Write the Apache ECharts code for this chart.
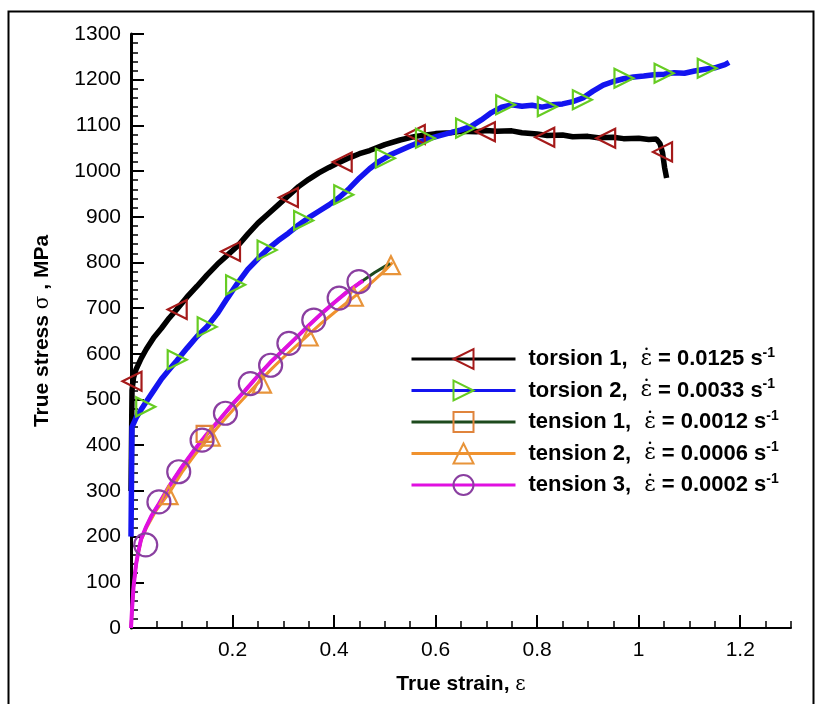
<!DOCTYPE html>
<html><head><meta charset="utf-8">
<script src="https://cdn.jsdelivr.net/npm/echarts@6/dist/echarts.min.js"></script>
<style>html,body{margin:0;padding:0;background:#fff}#c{width:816px;height:704px}</style>
</head><body><div id="c"></div>
<script>
// ---------- data ----------
const seriesNames = ['torsion 1', 'torsion 2', 'tension 1', 'tension 2', 'tension 3'];
const strainRates = ['0.0125', '0.0033', '0.0012', '0.0006', '0.0002'];
const xMajorTicks = [0, 0.2, 0.4, 0.6, 0.8, 1, 1.2];
const xTickLabels = [0.2, 0.4, 0.6, 0.8, 1, 1.2];

const torsion1X = [0, 0.002, 0.005, 0.01, 0.02, 0.03, 0.045, 0.06, 0.075, 0.09, 0.11, 0.13, 0.15, 0.17, 0.19, 0.21, 0.23, 0.25, 0.27, 0.29, 0.31, 0.33, 0.35, 0.37, 0.39, 0.41, 0.43, 0.45, 0.47, 0.5, 0.53, 0.56, 0.6, 0.63, 0.65, 0.68, 0.7, 0.72, 0.75, 0.77, 0.8, 0.82, 0.85, 0.87, 0.9, 0.92, 0.95, 0.97, 1.0, 1.02, 1.035, 1.042, 1.047, 1.051, 1.055];
const torsion1Y = [300, 520, 548, 566, 590, 610, 636, 656, 678, 697, 724, 748, 773, 796, 816, 836, 862, 886, 906, 926, 946, 966, 982, 996, 1008, 1019, 1029, 1038, 1045, 1058, 1068, 1076, 1082, 1084, 1087, 1086, 1089, 1087, 1088, 1084, 1081, 1078, 1079, 1075, 1076, 1073, 1074, 1071, 1072, 1069, 1070, 1060, 1040, 1008, 985];
const torsion1MarkX = [0.002, 0.091, 0.196, 0.31, 0.416, 0.56, 0.698, 0.815, 0.935, 1.047];
const torsion1MarkY = [540, 697, 824, 942, 1020, 1080, 1086, 1074, 1072, 1042];

const torsion2X = [0, 0.002, 0.01, 0.02, 0.03, 0.045, 0.06, 0.075, 0.09, 0.11, 0.13, 0.15, 0.17, 0.19, 0.21, 0.23, 0.25, 0.27, 0.29, 0.31, 0.33, 0.35, 0.37, 0.39, 0.41, 0.43, 0.45, 0.47, 0.49, 0.51, 0.53, 0.55, 0.57, 0.59, 0.61, 0.63, 0.65, 0.67, 0.69, 0.71, 0.73, 0.75, 0.77, 0.79, 0.81, 0.83, 0.85, 0.87, 0.89, 0.91, 0.93, 0.95, 0.97, 0.99, 1.01, 1.03, 1.05, 1.07, 1.09, 1.11, 1.13, 1.15, 1.17, 1.178];
const torsion2Y = [200, 440, 460, 478, 495, 520, 545, 565, 585, 612, 638, 660, 688, 722, 755, 785, 808, 830, 848, 864, 882, 898, 912, 926, 942, 962, 985, 1005, 1022, 1035, 1045, 1055, 1064, 1072, 1078, 1084, 1090, 1098, 1112, 1128, 1140, 1145, 1142, 1144, 1140, 1145, 1147, 1152, 1160, 1175, 1188, 1196, 1202, 1206, 1208, 1211, 1212, 1215, 1214, 1219, 1223, 1226, 1233, 1238];
const torsion2MarkX = [0.029, 0.091, 0.15, 0.206, 0.268, 0.34, 0.419, 0.501, 0.58, 0.659, 0.738, 0.82, 0.889, 0.971, 1.05, 1.135];
const torsion2MarkY = [484, 587, 659, 751, 827, 892, 948, 1028, 1072, 1094, 1145, 1141, 1156, 1203, 1214, 1225];

const tension1X = [0, 0.002, 0.005, 0.01, 0.015, 0.02, 0.03, 0.04, 0.055, 0.075, 0.1, 0.125, 0.15, 0.175, 0.2, 0.225, 0.25, 0.275, 0.3, 0.325, 0.35, 0.375, 0.4, 0.425, 0.45, 0.48, 0.51];
const tension1Y = [0, 40, 90, 140, 170, 195, 222, 245, 272, 310, 352, 390, 425, 457, 490, 520, 552, 582, 608, 635, 662, 688, 712, 735, 755, 778, 798];
const tension1MarkX = [0.145];
const tension1MarkY = [425];

const tension2X = [0, 0.002, 0.005, 0.01, 0.02, 0.03, 0.05, 0.075, 0.1, 0.125, 0.15, 0.175, 0.2, 0.225, 0.25, 0.275, 0.3, 0.325, 0.35, 0.375, 0.4, 0.425, 0.45, 0.475, 0.5, 0.515];
const tension2Y = [0, 40, 90, 140, 192, 218, 258, 295, 340, 378, 412, 445, 476, 506, 536, 565, 592, 617, 642, 667, 690, 712, 734, 757, 782, 800];
const tension2MarkX = [0.074, 0.157, 0.258, 0.35, 0.439, 0.512];
const tension2MarkY = [291, 419, 535, 638, 725, 794];

const tension3X = [0, 0.002, 0.005, 0.01, 0.015, 0.02, 0.03, 0.04, 0.055, 0.075, 0.1, 0.125, 0.15, 0.175, 0.2, 0.225, 0.25, 0.275, 0.3, 0.325, 0.35, 0.375, 0.4, 0.425, 0.45, 0.457];
const tension3Y = [0, 40, 90, 140, 170, 195, 222, 245, 272, 310, 352, 390, 425, 457, 490, 520, 552, 582, 608, 635, 662, 688, 712, 735, 755, 760];
const tension3MarkX = [0.029, 0.055, 0.094, 0.14, 0.186, 0.235, 0.275, 0.311, 0.36, 0.41, 0.449];
const tension3MarkY = [182, 276, 342, 411, 470, 535, 575, 623, 674, 722, 758];

// ---------- styles ----------
const lineColors = ['#000000', '#1414f0', '#1d4a1d', '#f0922e', '#e010e0'];
const lineWidths = [5.5, 5.5, 3, 3, 4];
const markColors = ['#a51a1a', '#66cc22', '#e0843c', '#e8943a', '#8a3fa0'];
const markSymbols = ['triangle', 'triangle', 'rect', 'triangle', 'circle'];
const markRotate = [90, -90, 0, 0, 0];
const markSizes = [19, 19, 16, 18, 23];

const zip = (xs, ys) => xs.map((x, i) => [x, ys[i]]);
const lineData = [zip(torsion1X, torsion1Y), zip(torsion2X, torsion2Y), zip(tension1X, tension1Y), zip(tension2X, tension2Y), zip(tension3X, tension3Y)];
const markData = [zip(torsion1MarkX, torsion1MarkY), zip(torsion2MarkX, torsion2MarkY), zip(tension1MarkX, tension1MarkY), zip(tension2MarkX, tension2MarkY), zip(tension3MarkX, tension3MarkY)];

const drawOrder = [0, 1, 3, 2, 4];
const series = [];
drawOrder.forEach((i, k) => {
  series.push({
    name: seriesNames[i], type: 'line', data: lineData[i], xAxisIndex: 0, yAxisIndex: 0,
    showSymbol: false, symbol: markSymbols[i], symbolRotate: markRotate[i],
    lineStyle: { color: lineColors[i], width: lineWidths[i] },
    itemStyle: { color: markColors[i] }, z: 2 + k, silent: true, animation: false
  });
});
drawOrder.forEach((i, k) => {
  series.push({
    name: seriesNames[i] + ' markers', type: 'scatter', data: markData[i], xAxisIndex: 0, yAxisIndex: 0,
    symbol: markSymbols[i], symbolRotate: markRotate[i], symbolSize: markSizes[i],
    itemStyle: { color: 'transparent', borderColor: markColors[i], borderWidth: 2.2, opacity: 1 },
    z: 10 + k, silent: true, animation: false
  });
});

const FONT = 'Liberation Sans';
const rateOf = {};
seriesNames.forEach((n, i) => rateOf[n] = strainRates[i]);

const chart = echarts.init(document.getElementById('c'), null, { renderer: 'canvas' });
chart.setOption({
  backgroundColor: '#ffffff',
  animation: false,
  grid: { left: 131, top: 34, right: 25, bottom: 76, containLabel: false },
  xAxis: [
    {
      type: 'value', min: 0, max: 1.3, interval: 0.05, position: 'bottom',
      axisLine: { show: true, onZero: false, lineStyle: { color: '#000', width: 2 } },
      axisTick: { show: true, inside: true, length: 7, lineStyle: { color: '#000', width: 1.5 } },
      axisLabel: { show: false }, splitLine: { show: false },
      name: '{b|True strain, }{e|ε}', nameLocation: 'middle', nameGap: 46,
      nameTextStyle: { rich: {
        b: { fontFamily: FONT, fontWeight: 'bold', fontSize: 21, color: '#000' },
        e: { fontFamily: 'DejaVu Serif', fontSize: 20, color: '#000' } } }
    },
    {
      type: 'value', min: 0, max: 1.3, interval: 0.2, position: 'bottom',
      axisLine: { show: false, onZero: false },
      axisTick: { show: true, inside: true, length: 13, customValues: xMajorTicks, lineStyle: { color: '#000', width: 2 } },
      axisLabel: { show: true, customValues: xTickLabels, margin: 12, fontFamily: FONT, fontSize: 21, color: '#000',
        formatter: v => (v === 0 || v > 1.25) ? '' : String(+v.toFixed(1)) },
      splitLine: { show: false }
    }
  ],
  yAxis: {
    type: 'value', min: 0, max: 1300, interval: 100,
    axisLine: { show: true, onZero: false, lineStyle: { color: '#000', width: 3 } },
    axisTick: { show: true, inside: true, length: 13, lineStyle: { color: '#000', width: 2 } },
    minorTick: { show: true, splitNumber: 5, length: 7, lineStyle: { color: '#000', width: 1.5 } },
    axisLabel: { margin: 10, fontFamily: FONT, fontSize: 21, color: '#000', formatter: v => String(Math.round(v)) },
    splitLine: { show: false }, minorSplitLine: { show: false },
    name: '{b|True stress }{e|σ}{b| , MPa}', nameLocation: 'middle', nameGap: 78,
    nameTextStyle: { rich: {
      b: { fontFamily: FONT, fontWeight: 'bold', fontSize: 21, color: '#000' },
      e: { fontFamily: 'DejaVu Serif', fontSize: 20, color: '#000' } } }
  },
  legend: {
    orient: 'vertical', left: 405, top: 341, itemWidth: 104, itemHeight: 25, itemGap: 7.5,
    data: seriesNames.map((n, i) => ({
      name: n,
      itemStyle: { color: 'transparent', borderColor: markColors[i], borderWidth: 2 },
      lineStyle: { color: lineColors[i], width: 3 }
    })),
    formatter: n => '{b|' + n + ',}{sp| }{e|ε̇}{b| = ' + rateOf[n] + ' s}{s|-1}',
    textStyle: {
      padding: [0, 0, 0, 8],
      rich: {
        b: { fontFamily: FONT, fontWeight: 'bold', fontSize: 22, color: '#000', lineHeight: 26 },
        sp: { fontSize: 22, width: 13, lineHeight: 26 },
        e: { fontFamily: 'DejaVu Serif', fontSize: 22, color: '#000', lineHeight: 26 },
        s: { fontFamily: FONT, fontWeight: 'bold', fontSize: 14, color: '#000', verticalAlign: 'top', lineHeight: 26 }
      }
    },
    selectedMode: false
  },
  graphic: [{
    type: 'rect', left: 6, top: 9, silent: true,
    shape: { x: 0, y: 0, width: 805, height: 720 },
    style: { fill: 'none', stroke: '#000', lineWidth: 2 }
  }],
  series: series
});
</script>
</body></html>
